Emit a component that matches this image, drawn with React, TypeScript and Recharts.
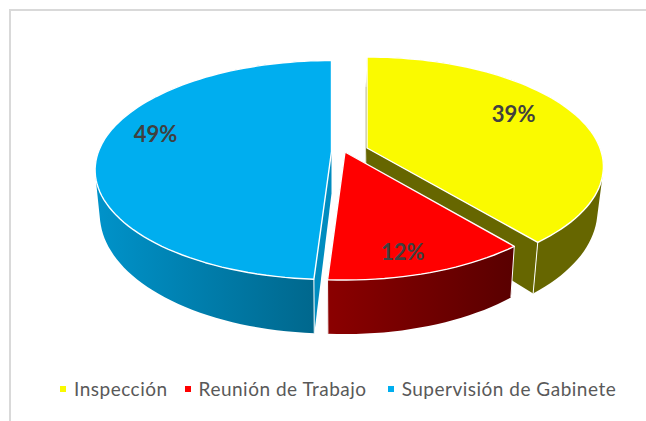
import React from 'react'
import { PieChart, Pie, Legend } from 'recharts'

const categories = ['Inspección', 'Reunión de Trabajo', 'Supervisión de Gabinete']
const shares = [39, 12, 49]
const colors = ['#FAFA00', '#FF0000', '#00AEEF']

const chartData = categories.map((name, i) => ({ name, value: shares[i], fill: colors[i] }))

// look of each slice: where it was pulled out to and how its walls are shaded
const sliceStyle: Record<string, any> = {
  'Inspección': { cx: 367, cy: 148, rx: 233, lean: -1.2, from: '#666600', to: '#666600', side: '#666600', nudge: [-11, -9] },
  'Reunión de Trabajo': { cx: 345, cy: 152, rx: 231, lean: 0, from: '#8B0000', to: '#590000', side: '#590000', nudge: [-3, 13] },
  'Supervisión de Gabinete': { cx: 331.5, cy: 151.5, rx: 233, lean: 0, from: '#0093CA', to: '#006488', side: '#008CBF', nudge: [-2, -16] },
}

const legendGaps = [17, 21, 0]

const RY = 106.4
const PERSP = 0.169

// angle in recharts degrees -> point on the tilted disc
function project(s: any, angle: number, frac = 1, lower = false) {
  const t = ((90 - angle) * Math.PI) / 180
  const u = Math.sin(t) * frac
  const v = -Math.cos(t) * frac
  const k = 1 / (1 - PERSP * v)
  const x = s.rx * u * k
  const y = RY * v * k
  if (!lower) return [s.cx + x, s.cy + y]
  return [s.cx + s.lean + x * 0.98, s.cy + y + 42 + 12 * v]
}

function arcPoints(s: any, a: number, b: number, lower = false) {
  const n = Math.max(2, Math.ceil(Math.abs(a - b) / 2))
  const pts: number[][] = []
  for (let i = 0; i <= n; i++) pts.push(project(s, a + ((b - a) * i) / n, 1, lower))
  return pts
}

const toPath = (pts: number[][]) =>
  'M' + pts.map(p => `${p[0].toFixed(1)},${p[1].toFixed(1)}`).join('L') + 'Z'

// swept side of the slice, one quad per arc step, all wound the same way
function sweptWall(top: number[][], low: number[][]) {
  let d = ''
  for (let i = 0; i < top.length - 1; i++) {
    const quad = [top[i], top[i + 1], low[i + 1], low[i]]
    let area = 0
    quad.forEach((p, j) => {
      const q = quad[(j + 1) % 4]
      area += p[0] * q[1] - q[0] * p[1]
    })
    d += toPath(area < 0 ? [...quad].reverse() : quad)
  }
  return d
}

function Slice3D(props: any) {
  const { startAngle, endAngle, name, fill } = props
  const s = sliceStyle[name]
  const gradId = `wall-${categories.indexOf(name)}`
  const apex = [s.cx, s.cy]
  const apexLow = project(s, startAngle, 0, true)
  const top = arcPoints(s, startAngle, endAngle)
  const low = arcPoints(s, startAngle, endAngle, true)
  const last = top.length - 1
  return (
    <g>
      <defs>
        <linearGradient id={gradId} x1="0" y1="0" x2="1" y2="0">
          <stop offset="0%" stopColor={s.from} />
          <stop offset="100%" stopColor={s.to} />
        </linearGradient>
      </defs>
      <path d={toPath([apex, top[0], low[0], apexLow])} fill={s.side} />
      <path d={toPath([apex, top[last], low[last], apexLow])} fill={s.side} />
      <path d={sweptWall(top, low)} fill={`url(#${gradId})`} />
      <path d={`M${top[0][0]},${top[0][1]}L${low[0][0]},${low[0][1]}M${top[last][0]},${top[last][1]}L${low[last][0]},${low[last][1]}`} stroke="#fff" strokeWidth={1} fill="none" />
      <path d={toPath([apex, ...top])} fill={fill} stroke="#fff" strokeWidth={1.4} strokeLinejoin="round" />
    </g>
  )
}

function renderPercent(props: any) {
  const { name, midAngle, percent } = props
  const s = sliceStyle[name]
  const p = project(s, midAngle, 0.75)
  return (
    <text
      x={p[0] + s.nudge[0]}
      y={p[1] + s.nudge[1]}
      textAnchor="middle"
      dominantBaseline="central"
      fontFamily="Lato, sans-serif"
      fontWeight={700}
      fontSize={22}
      fill="#404040"
    >
      {`${Math.round(percent * 100)}%`}
    </text>
  )
}

function LegendRow({ payload }: any) {
  return (
    <div style={{ display: 'flex', paddingLeft: 60, fontFamily: 'Lato, sans-serif', fontSize: 19, letterSpacing: 0.5, color: '#595959' }}>
      {(payload ?? []).map((item: any, i: number) => (
        <div key={item.value} style={{ display: 'flex', alignItems: 'center', marginRight: legendGaps[i], whiteSpace: 'nowrap' }}>
          <span style={{ width: 6, height: 6, background: item.color, marginRight: 8, display: 'inline-block' }} />
          <span>{item.value}</span>
        </div>
      ))}
    </div>
  )
}

export default function App() {
  return (
    <div style={{ position: 'relative', width: 646, height: 421, overflow: 'hidden', background: '#fff' }}>
      <style>{'body{margin:0;overflow:hidden}'}</style>
      <div style={{ position: 'absolute', left: 9, top: 9, width: 700, height: 500, borderLeft: '2px solid #d9d9d9', borderTop: '2px solid #d9d9d9' }} />
      <div style={{ position: 'absolute', left: 0, top: 0 }}>
        <PieChart width={646} height={421}>
          <Pie
            data={chartData}
            dataKey="value"
            nameKey="name"
            cx={345}
            cy={152}
            outerRadius={200}
            startAngle={90}
            endAngle={-270}
            stroke="none"
            shape={Slice3D}
            label={renderPercent}
            labelLine={false}
            isAnimationActive={false}
          />
          <Legend content={LegendRow} wrapperStyle={{ left: 0, top: 377, width: 646 }} />
        </PieChart>
      </div>
    </div>
  )
}
